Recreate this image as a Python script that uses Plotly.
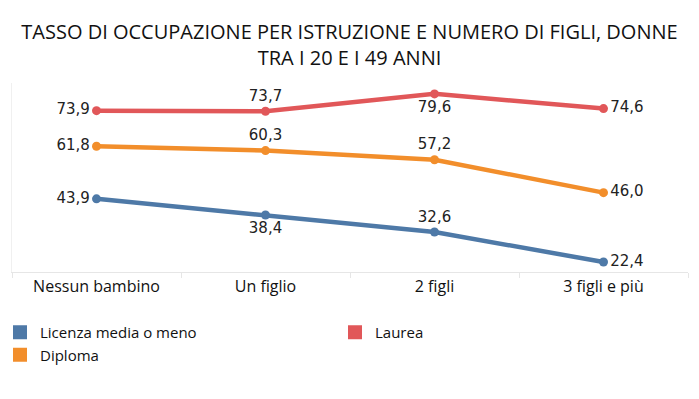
import plotly.graph_objects as go

categories = ["Nessun bambino", "Un figlio", "2 figli", "3 figli e più"]
licenza = [43.9, 38.4, 32.6, 22.4]
diploma = [61.8, 60.3, 57.2, 46.0]
laurea = [73.9, 73.7, 79.6, 74.6]

series_names = ["Licenza media o meno", "Laurea", "Diploma"]
series_values = [licenza, laurea, diploma]
colors = ["#4e79a7", "#e15759", "#f28e2b"]
label_pos = [
    ["middle left", "bottom center", "top center", "middle right"],
    ["middle left", "top center", "bottom center", "middle right"],
    ["middle left", "top center", "top center", "middle right"],
]

def fmt(v):
    return f"{v:.1f}".replace(".", ",")

fig = go.Figure()
for name, vals, col, pos in zip(series_names, series_values, colors, label_pos):
    fig.add_trace(go.Scatter(
        x=categories, y=vals, mode="lines+markers+text",
        line=dict(color=col, width=4.5),
        marker=dict(color=col, size=9),
        text=[fmt(v) for v in vals], textposition=pos,
        textfont=dict(family="DejaVu Sans", size=15, color="#222222"),
        showlegend=False, hoverinfo="x+y", name=name,
    ))
for name, col in zip(series_names, colors):
    fig.add_trace(go.Scatter(
        x=[None], y=[None], mode="markers", name=name,
        marker=dict(color=col, size=14, symbol="square"),
        showlegend=True,
    ))

fig.update_layout(
    width=699, height=399,
    paper_bgcolor="white", plot_bgcolor="white",
    margin=dict(l=12, r=11, t=83, b=127),
    title=dict(
        text="TASSO DI OCCUPAZIONE PER ISTRUZIONE E NUMERO DI FIGLI, DONNE<br>TRA I 20 E I 49 ANNI",
        x=0.5, xanchor="center", xref="container",
        y=1 - 39 / 399, yanchor="top", yref="container",
        font=dict(family="Open Sans", size=20, color="#111111"),
    ),
    xaxis=dict(
        type="category", range=[-0.5, 3.5], tickson="boundaries",
        ticks="outside", ticklen=5, tickcolor="#e6e6e6",
        showline=True, linecolor="#e6e6e6", linewidth=1,
        showgrid=False, zeroline=False,
        tickfont=dict(family="Open Sans", size=16, color="#111111"),
    ),
    yaxis=dict(
        range=[19.0, 83.3], showticklabels=False, showgrid=False,
        zeroline=False, showline=True, linecolor="#f0f0f0", linewidth=1,
        ticks="",
    ),
    legend=dict(
        orientation="h", xref="container", yref="container",
        x=0.0, xanchor="left", y=1 - 316 / 399, yanchor="top",
        entrywidth=290, traceorder="normal",
        font=dict(family="Open Sans", size=15, color="#111111"),
        itemclick=False, itemdoubleclick=False,
    ),
    hovermode="closest",
)

fig.write_html(
    "out.html",
    config={"displayModeBar": False},
    post_script="document.body.style.margin='0';document.body.style.padding='0';",
)
